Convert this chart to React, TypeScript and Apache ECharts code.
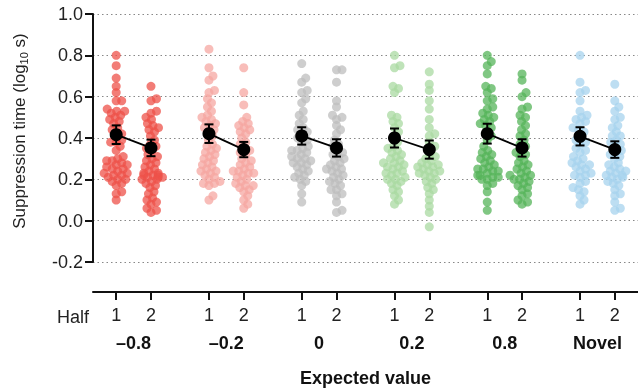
import React, { useEffect, useRef } from 'react';
import * as echarts from 'echarts';

const groups = ['–0.8', '–0.2', '0', '0.2', '0.8', 'Novel'];
const halves = ['1', '2'];
const groupColors = ['#EE514A', '#F6A7A1', '#BDBDBD', '#A9DAA2', '#55B45A', '#A7D3EE'];
const yTicks = [-0.2, 0, 0.2, 0.4, 0.6, 0.8, 1.0];

const g1h1 = [0.80,0.75,0.69,0.65,0.62,0.58,0.58,0.53,0.53,0.52,0.51,0.49,0.48,0.47,0.45,0.44,0.42,0.42,0.39,0.38,0.36,0.34,0.31,0.30,0.29,0.29,0.27,0.27,0.26,0.25,0.25,0.24,0.23,0.23,0.22,0.22,0.21,0.20,0.20,0.19,0.18,0.17,0.14,0.13,0.10,0.54,0.50,0.38,0.28];
const g1h2 = [0.65,0.59,0.58,0.53,0.52,0.50,0.49,0.47,0.46,0.45,0.43,0.41,0.39,0.37,0.35,0.34,0.32,0.30,0.29,0.28,0.26,0.25,0.23,0.23,0.22,0.22,0.22,0.21,0.21,0.21,0.20,0.20,0.19,0.18,0.17,0.16,0.14,0.13,0.11,0.10,0.09,0.08,0.06,0.05,0.04,0.36,0.31,0.27,0.24,0.44];
const g2h1 = [0.83,0.74,0.70,0.68,0.63,0.62,0.59,0.57,0.55,0.53,0.51,0.50,0.49,0.47,0.46,0.45,0.43,0.41,0.39,0.37,0.35,0.34,0.33,0.32,0.30,0.29,0.28,0.27,0.26,0.25,0.24,0.23,0.22,0.20,0.19,0.18,0.18,0.17,0.12,0.10,0.48,0.44,0.36,0.31,0.24,0.21];
const g2h2 = [0.74,0.62,0.56,0.50,0.48,0.47,0.46,0.45,0.43,0.42,0.40,0.37,0.35,0.34,0.32,0.30,0.29,0.27,0.26,0.25,0.24,0.24,0.23,0.22,0.20,0.19,0.18,0.17,0.17,0.15,0.14,0.12,0.10,0.08,0.06,0.44,0.38,0.33,0.28,0.23,0.21,0.16];
const g3h1 = [0.76,0.69,0.67,0.63,0.62,0.59,0.57,0.53,0.51,0.49,0.47,0.44,0.43,0.42,0.39,0.38,0.36,0.34,0.34,0.32,0.30,0.30,0.29,0.28,0.27,0.25,0.23,0.22,0.20,0.19,0.17,0.13,0.09,0.45,0.40,0.35,0.33,0.31,0.28,0.26,0.24,0.21];
const g3h2 = [0.73,0.73,0.67,0.58,0.55,0.51,0.50,0.49,0.46,0.44,0.42,0.39,0.36,0.34,0.33,0.31,0.30,0.28,0.26,0.25,0.24,0.23,0.22,0.20,0.18,0.17,0.15,0.13,0.12,0.09,0.05,0.04,0.37,0.32,0.29,0.27,0.25,0.21,0.19,0.15];
const g4h1 = [0.80,0.75,0.74,0.65,0.64,0.62,0.51,0.50,0.48,0.47,0.45,0.43,0.41,0.38,0.36,0.33,0.32,0.31,0.30,0.28,0.28,0.27,0.26,0.25,0.24,0.23,0.22,0.20,0.19,0.18,0.17,0.15,0.14,0.12,0.10,0.08,0.35,0.34,0.29,0.26,0.23,0.21,0.20];
const g4h2 = [0.72,0.66,0.63,0.58,0.54,0.49,0.45,0.42,0.41,0.38,0.36,0.32,0.30,0.29,0.28,0.27,0.26,0.24,0.23,0.22,0.20,0.18,0.16,0.15,0.13,0.10,0.07,0.04,-0.03,0.27,0.26,0.25,0.24,0.23,0.21,0.19,0.35,0.31];
const g5h1 = [0.80,0.77,0.75,0.71,0.65,0.64,0.62,0.59,0.58,0.55,0.54,0.51,0.50,0.49,0.48,0.47,0.45,0.43,0.41,0.39,0.33,0.32,0.31,0.30,0.28,0.27,0.26,0.25,0.25,0.24,0.23,0.22,0.21,0.21,0.20,0.20,0.18,0.17,0.14,0.09,0.05,0.36,0.34,0.29,0.24,0.22,0.46,0.52];
const g5h2 = [0.71,0.68,0.62,0.60,0.55,0.54,0.51,0.50,0.48,0.46,0.44,0.42,0.41,0.39,0.37,0.34,0.32,0.31,0.29,0.27,0.25,0.24,0.23,0.22,0.21,0.20,0.19,0.18,0.17,0.16,0.15,0.13,0.10,0.09,0.08,0.36,0.33,0.28,0.26,0.22,0.20,0.12];
const g6h1 = [0.80,0.67,0.63,0.62,0.58,0.53,0.51,0.50,0.49,0.48,0.47,0.45,0.43,0.41,0.39,0.37,0.34,0.33,0.31,0.30,0.29,0.28,0.27,0.26,0.24,0.23,0.22,0.21,0.19,0.18,0.16,0.15,0.14,0.12,0.10,0.08,0.44,0.38,0.35,0.27,0.25,0.22];
const g6h2 = [0.66,0.58,0.55,0.53,0.50,0.49,0.46,0.45,0.43,0.41,0.39,0.38,0.37,0.34,0.33,0.31,0.30,0.28,0.26,0.25,0.24,0.23,0.22,0.21,0.21,0.20,0.18,0.17,0.15,0.13,0.12,0.09,0.06,0.05,0.36,0.32,0.27,0.24,0.22,0.19,0.41];

const columns = [[g1h1, g1h2], [g2h1, g2h2], [g3h1, g3h2], [g4h1, g4h2], [g5h1, g5h2], [g6h1, g6h2]];

const means = [[0.416, 0.352], [0.421, 0.344], [0.410, 0.352], [0.400, 0.344], [0.421, 0.352], [0.408, 0.344]];
const sems = [[0.045, 0.040], [0.045, 0.037], [0.042, 0.042], [0.046, 0.044], [0.048, 0.042], [0.044, 0.040]];

// layout constants (presentation only)
const W = 638, H = 392;
const GRID = { left: 93, right: 0, top: 14, bottom: 128 };
const XMAX = 94; // half-unit slots across the x range
const pxPerX = (W - GRID.left - GRID.right) / XMAX;
const pxPerY = (H - GRID.top - GRID.bottom) / 1.2;
const colPos = (g: number, h: number) => 2 * (2 + g * 8 + h * 3);
const groupCenter = (g: number) => 2 * (2 + g * 8) + 3;

function swarm(values: number[], diam: number, maxOff: number): number[] {
  const order = values.map((_, i) => i).sort((a, b) => values[a] - values[b]);
  const placed: { x: number; y: number }[] = [];
  const out = new Array(values.length).fill(0);
  for (const i of order) {
    const y = values[i] * pxPerY;
    let best = 0;
    let found = false;
    for (let k = 0; k < 400; k++) {
      const step = Math.ceil(k / 2) * 0.5;
      const cand = k === 0 ? 0 : (k % 2 === 1 ? step : -step);
      if (Math.abs(cand) > maxOff) break;
      if (placed.every(p => (p.x - cand) ** 2 + (p.y - y) ** 2 >= diam * diam)) { best = cand; found = true; break; }
    }
    if (!found) best = (placed.length % 2 ? 1 : -1) * maxOff * 0.6;
    placed.push({ x: best, y });
    out[i] = best;
  }
  return out;
}

const FONT = 'Liberation Sans, Arial, Helvetica, sans-serif';

export default function App() {
  const ref = useRef<HTMLDivElement>(null);
  useEffect(() => {
    if (!ref.current) return;
    const chart = echarts.init(ref.current, undefined, { renderer: 'svg' });

    const colIdx = new Map<number, string>();
    groups.forEach((_, g) => halves.forEach((h, hi) => colIdx.set(colPos(g, hi), h)));
    const grpIdx = new Map<number, string>();
    groups.forEach((name, g) => grpIdx.set(groupCenter(g), name));
    const cats = Array.from({ length: XMAX + 1 }, (_, i) => String(i));

    const series: any[] = [];
    columns.forEach((pair, g) => {
      pair.forEach((vals, h) => {
        const offs = swarm(vals, 5.5, 12);
        series.push({
          type: 'scatter',
          xAxisIndex: 0,
          symbolSize: 9,
          z: 2,
          itemStyle: { color: groupColors[g], opacity: 0.75 },
          data: vals.map((v, i) => [colPos(g, h) + offs[i] / pxPerX, v]),
        });
      });
    });
    // connecting lines
    columns.forEach((_, g) => {
      series.push({
        type: 'line',
        xAxisIndex: 0,
        z: 3,
        symbol: 'none',
        lineStyle: { color: '#000', width: 1.8 },
        data: [[colPos(g, 0), means[g][0]], [colPos(g, 1), means[g][1]]],
      });
    });
    // error bars
    const errData: number[][] = [];
    columns.forEach((_, g) => [0, 1].forEach(h => errData.push([colPos(g, h), means[g][h], means[g][h] - sems[g][h], means[g][h] + sems[g][h]])));
    series.push({
      type: 'custom',
      xAxisIndex: 0,
      z: 4,
      encode: { x: 0, y: 1 },
      data: errData,
      renderItem: (params: any, api: any) => {
        const x = api.value(0);
        const lo = api.coord([x, api.value(2)]);
        const hi = api.coord([x, api.value(3)]);
        const w = 4.5;
        const st = { stroke: '#000', lineWidth: 2 };
        return {
          type: 'group',
          children: [
            { type: 'line', shape: { x1: lo[0], y1: lo[1], x2: hi[0], y2: hi[1] }, style: st },
            { type: 'line', shape: { x1: lo[0] - w, y1: lo[1], x2: lo[0] + w, y2: lo[1] }, style: st },
            { type: 'line', shape: { x1: hi[0] - w, y1: hi[1], x2: hi[0] + w, y2: hi[1] }, style: st },
          ],
        };
      },
    });
    // means
    const meanData: number[][] = [];
    columns.forEach((_, g) => [0, 1].forEach(h => meanData.push([colPos(g, h), means[g][h]])));
    series.push({
      type: 'scatter',
      xAxisIndex: 0,
      z: 5,
      symbolSize: 13,
      itemStyle: { color: '#000', opacity: 1 },
      data: meanData,
    });

    chart.setOption({
      animation: false,
      textStyle: { fontFamily: FONT },
      grid: { ...GRID, containLabel: false },
      xAxis: [
        { type: 'value', min: 0, max: XMAX, show: false },
        {
          type: 'category',
          data: cats,
          boundaryGap: false,
          position: 'bottom',
          offset: 30,
          axisLine: { show: true, lineStyle: { color: '#111', width: 2 } },
          axisTick: { show: true, length: 8, lineStyle: { color: '#111', width: 2 }, interval: (i: number) => colIdx.has(i) },
          axisLabel: {
            interval: (i: number) => colIdx.has(i),
            formatter: (v: string) => colIdx.get(Number(v)) ?? '',
            fontSize: 18, color: '#222', margin: 14, fontFamily: FONT,
          },
          splitLine: { show: false },
        },
        {
          type: 'category',
          data: cats,
          boundaryGap: false,
          position: 'bottom',
          offset: 30,
          axisLine: { show: false },
          axisTick: { show: false },
          axisLabel: {
            interval: (i: number) => grpIdx.has(i),
            formatter: (v: string) => grpIdx.get(Number(v)) ?? '',
            fontSize: 18, fontWeight: 'bold', color: '#111', margin: 42, fontFamily: FONT,
          },
          splitLine: { show: false },
          name: 'Expected value',
          nameLocation: 'middle',
          nameGap: 77,
          nameTextStyle: { fontSize: 18, fontWeight: 'bold', color: '#111', fontFamily: FONT },
        },
      ],
      yAxis: {
        type: 'value',
        min: yTicks[0],
        max: yTicks[yTicks.length - 1],
        interval: 0.2,
        axisLine: { show: true, lineStyle: { color: '#111', width: 2 } },
        axisTick: { show: true, length: 8, lineStyle: { color: '#111', width: 2 } },
        axisLabel: { fontSize: 18, color: '#222', margin: 10, fontFamily: FONT, formatter: (v: number) => v.toFixed(1) },
        splitLine: { show: true, lineStyle: { color: '#888', width: 1.2, type: [1.5, 3] } },
      },
      graphic: [
        {
          type: 'text',
          x: 19,
          y: 131,
          rotation: Math.PI / 2,
          style: {
            text: '{a|Suppression time (log}{s|10}{a| s)}',
            align: 'center',
            verticalAlign: 'middle',
            fill: '#222',
            rich: {
              a: { fontSize: 17, fontFamily: FONT, fill: '#222', lineHeight: 20 },
              s: { fontSize: 11, fontFamily: FONT, fill: '#222', verticalAlign: 'bottom', lineHeight: 12 },
            },
          },
        },
        {
          type: 'text',
          x: 73,
          y: 317,
          style: { text: 'Half', fontSize: 18, fontFamily: FONT, fill: '#222', align: 'center', verticalAlign: 'middle' },
        },
      ],
      series,
    });
    return () => chart.dispose();
  }, []);
  return <div ref={ref} style={{ position: 'fixed', left: 0, top: 0, width: W, height: H }} />;
}
